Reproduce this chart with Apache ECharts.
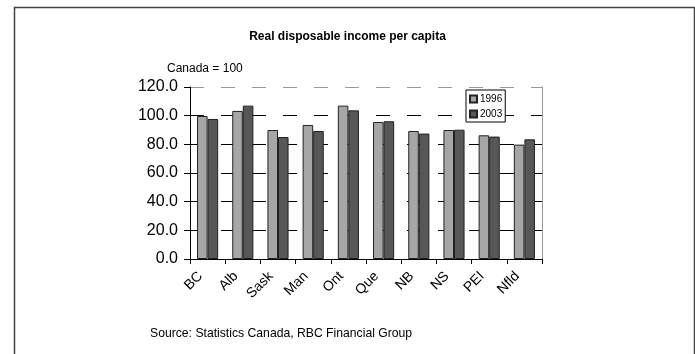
<!DOCTYPE html>
<html>
<head>
<meta charset="utf-8">
<script src="https://cdn.jsdelivr.net/npm/echarts@6/dist/echarts.min.js"></script>
<style>
html,body{margin:0;padding:0;background:#fff;}
#chart{width:695px;height:354px;}
</style>
</head>
<body>
<div id="chart"></div>
<script>
var categories = ['BC','Alb','Sask','Man','Ont','Que','NB','NS','PEI','Nfld'];
var values1996 = [99.8, 103.3, 90.0, 93.5, 107.0, 95.6, 89.3, 90.0, 86.3, 79.8];
var values2003 = [97.7, 107.0, 85.1, 89.3, 103.7, 96.1, 87.5, 90.2, 85.4, 83.5];
var seriesNames = ['1996', '2003'];
var titleText = 'Real disposable income per capita';
var unitText = 'Canada = 100';
var sourceText = 'Source: Statistics Canada, RBC Financial Group';

var FN = '"Liberation Sans", Arial, sans-serif';
var chart = echarts.init(document.getElementById('chart'), null, {renderer: 'canvas'});
chart.setOption({
  animation: false,
  backgroundColor: '#fff',
  title: {
    text: titleText,
    left: 'center',
    top: 26,
    textStyle: {fontFamily: FN, fontSize: 12, fontWeight: 'bold', color: '#000'}
  },
  graphic: [
    {type: 'rect', left: 12, top: 5, shape: {width: 680, height: 360},
     style: {fill: 'none', stroke: '#444', lineWidth: 1.5}, silent: true},
    {type: 'text', left: 167, top: 63, style: {text: unitText, font: '12px ' + FN, fill: '#000'}},
    {type: 'text', left: 150, top: 328, style: {text: sourceText, font: '12.2px ' + FN, fill: '#000'}}
  ],
  legend: {
    data: seriesNames,
    orient: 'vertical',
    left: 466,
    top: 90,
    backgroundColor: '#fff',
    borderColor: '#000',
    borderWidth: 1,
    padding: [4, 3, 3, 3],
    itemWidth: 7,
    itemHeight: 7,
    itemGap: 5,
    icon: 'rect',
    textStyle: {fontFamily: FN, fontSize: 10, color: '#000', padding: [0, 0, 0, -2]}
  },
  grid: {left: 190, top: 87, right: 153, bottom: 95, containLabel: false},
  xAxis: {
    type: 'category',
    data: categories,
    axisLine: {lineStyle: {color: '#000', width: 1}},
    axisTick: {show: true, length: 5, lineStyle: {color: '#000'}},
    axisLabel: {rotate: 45, margin: 8, padding: [0, 10, 0, 0], fontFamily: FN, fontSize: 14, color: '#000'}
  },
  yAxis: [{
    type: 'value',
    min: 0, max: 120, interval: 20,
    axisLine: {show: true, lineStyle: {color: '#000', width: 1}},
    axisTick: {show: true, length: 6, lineStyle: {color: '#000'}},
    axisLabel: {margin: 12, fontFamily: FN, fontSize: 16, color: '#000',
      formatter: function (v) { return v.toFixed(1); }},
    splitLine: {show: true, lineStyle: {color: ['#000','#000','#000','#000','#000','#000','#999'], type: [14, 17], width: 1}}
  }, {
    type: 'value', position: 'right',
    min: 0, max: 120, interval: 20,
    axisLine: {show: true, lineStyle: {color: '#999', width: 1}},
    axisTick: {show: false}, axisLabel: {show: false}, splitLine: {show: false}
  }],
  series: [{
    name: seriesNames[0], type: 'bar', data: values1996,
    barGap: '0%', barCategoryGap: '40%',
    itemStyle: {color: '#a6a6a6', borderColor: '#222', borderWidth: 1}
  }, {
    name: seriesNames[1], type: 'bar', data: values2003,
    barGap: '0%', barCategoryGap: '40%',
    itemStyle: {color: '#575757', borderColor: '#222', borderWidth: 1}
  }]
});
</script>
</body>
</html>
